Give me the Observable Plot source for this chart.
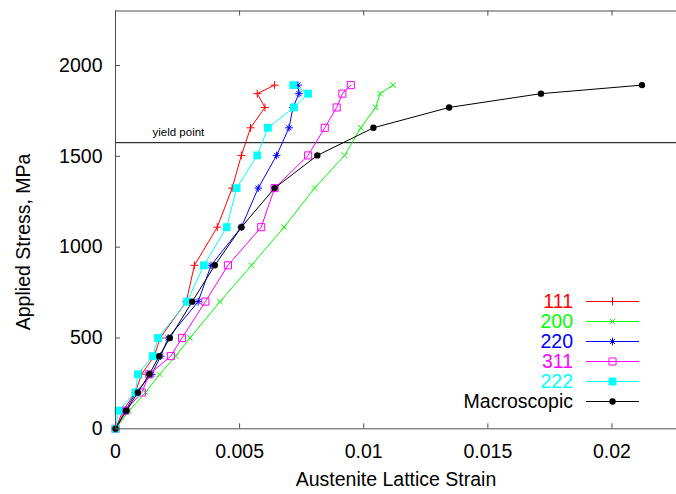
<!DOCTYPE html>
<html><head><meta charset="utf-8">
<script src="https://cdn.jsdelivr.net/npm/d3@7"></script>
<script src="https://cdn.jsdelivr.net/npm/@observablehq/plot@0.6"></script>
<style>
body{margin:0;background:#fff;}
#wrap{position:relative;width:676px;height:494px;}
#wrap svg{position:absolute;left:0;top:0;}
</style></head><body><div id="wrap"></div>
<script>
// ---- data ----
const stress = [0, 100, 200, 300, 400, 500, 700, 900, 1110, 1325, 1505, 1657, 1769, 1845, 1892];
const strain111 = [0, 0.0003, 0.0008, 0.00105, 0.00156, 0.0018, 0.00285, 0.00318, 0.0041, 0.0047, 0.00507, 0.00544, 0.00602, 0.00571, 0.00641];
const strain200 = [0, 0.00055, 0.00121, 0.00178, 0.00242, 0.003, 0.00421, 0.00548, 0.00679, 0.00802, 0.00923, 0.00988, 0.01048, 0.01066, 0.01118];
const strain220 = [0, 0.0004, 0.00082, 0.00146, 0.00182, 0.00212, 0.00333, 0.00385, 0.00507, 0.00575, 0.00649, 0.00699, 0.00715, 0.00739, 0.00735];
const strain311 = [0, 0.0004, 0.00106, 0.00136, 0.00223, 0.00268, 0.00362, 0.00453, 0.00587, 0.00641, 0.00776, 0.00843, 0.00891, 0.00914, 0.00948];
const strain222 = [0, 0.00012, 0.0008, 0.0009, 0.0015, 0.00171, 0.00288, 0.00356, 0.00448, 0.00488, 0.00571, 0.00614, 0.00719, 0.00776, 0.00716];
const strainMacro = [0, 0.00044, 0.0009, 0.00136, 0.00176, 0.00219, 0.00309, 0.004, 0.00507, 0.00641, 0.00813, 0.01039, 0.01344, 0.01714, 0.02121];
const seriesNames = ["111", "200", "220", "311", "222", "Macroscopic"];
const seriesColors = ["#ff0000", "#00ff00", "#0000ff", "#ff00ff", "#00ffff", "#000000"];
const xTicks = [0, 0.005, 0.01, 0.015, 0.02];
const yTicks = [0, 500, 1000, 1500, 2000];
const yieldStress = 1575;
const yieldLabel = "yield point";
const xLabel = "Austenite Lattice Strain";
const yLabel = "Applied Stress, MPa";
const xDomain = [0, 0.0226];
const yDomain = [0, 2300];

// ---- layout / style ----
const W = 676, H = 494;
const mL = 115, mR = 0, mT = 10.5, mB = 65.7;
const plotH = H - mT - mB, plotW = W - mL - mR;
const FONT = "'Liberation Sans', Arial, Helvetica, sans-serif";
const FS = 19.5;
const axisColor = "#505050";
const tickLen = 5;

const strains = [strain111, strain200, strain220, strain311, strain222, strainMacro];
const series = seriesNames.map((name, i) => ({
  name, color: seriesColors[i],
  data: stress.map((s, j) => ({stress: s, strain: strains[i][j]}))
}));

// marker specs per series: [symbol, r, filled]
const markerSpecs = [
  [["plus", 2.7, false]],
  [["times", 2.6, false]],
  [["plus", 2.6, false], ["times", 2.4, false]],
  [["square", 4.0, false]],
  [["square", 4.4, true]],
  [["circle", 3.2, true]]
];

const marks = [];
series.forEach((s, i) => {
  marks.push(Plot.line(s.data, {x: "strain", y: "stress", stroke: s.color, strokeWidth: 1}));
  markerSpecs[i].forEach(([sym, r, filled]) => {
    marks.push(Plot.dot(s.data, filled
      ? {x: "strain", y: "stress", symbol: sym, r, fill: s.color, stroke: "none"}
      : {x: "strain", y: "stress", symbol: sym, r, fill: "none", stroke: s.color, strokeWidth: 1}));
  });
});

const chart = Plot.plot({
  width: W, height: H,
  marginLeft: mL, marginRight: mR, marginTop: mT, marginBottom: mB,
  style: {fontFamily: FONT, fontSize: FS + "px", color: "#000", background: "#fff", overflow: "visible"},
  x: {domain: xDomain, axis: null},
  y: {domain: yDomain, axis: null},
  marks: [
    Plot.ruleY([yieldStress], {stroke: "#000", strokeWidth: 1}),
    Plot.text([yieldLabel], {frameAnchor: "left", y: () => yieldStress, text: d => d, textAnchor: "start", dx: 37, dy: -10, fontSize: 11.5, fill: "#000"}),
    ...marks,
    // frame (left, top, bottom)
    Plot.ruleX([xDomain[0]], {stroke: axisColor, strokeWidth: 1}),
    Plot.ruleY(yDomain, {stroke: axisColor, strokeWidth: 1}),
    // inward ticks
    Plot.tickX(xTicks, {x: d => d, insetTop: plotH - tickLen, stroke: axisColor}),
    Plot.tickX(xTicks, {x: d => d, insetBottom: plotH - tickLen, stroke: axisColor}),
    Plot.tickY(yTicks, {y: d => d, insetRight: plotW - tickLen, stroke: axisColor}),
    // tick labels
    Plot.axisX(xTicks, {anchor: "bottom", tickSize: 0, tickPadding: 15, tickFormat: d => String(d), label: null, fontSize: FS, fill: "#000"}),
    Plot.axisY(yTicks, {anchor: "left", tickSize: 0, tickPadding: 13, tickFormat: d => String(d), label: null, fontSize: FS, fill: "#000"}),
    // axis titles
    Plot.text([xLabel], {frameAnchor: "bottom", text: d => d, textAnchor: "middle", lineAnchor: "middle", dy: 51, fontSize: FS, fill: "#000"}),
    Plot.text([yLabel], {frameAnchor: "left", text: d => d, textAnchor: "middle", lineAnchor: "middle", rotate: -90, dx: -92, dy: 22, fontSize: FS, fill: "#000"})
  ]
});
document.getElementById("wrap").appendChild(chart);

// ---- legend overlay ----
const leg = d3.select("#wrap").append("svg").attr("width", W).attr("height", H)
  .style("font-family", FONT).style("pointer-events", "none");
const legTextRight = 573, legY0 = 301.5, legStep = 20, legX1 = 586, legX2 = 639, legMark = 612.5;
const symbolTypes = {plus: d3.symbolPlus, times: d3.symbolTimes, square: d3.symbolSquare, circle: d3.symbolCircle};
series.forEach((s, i) => {
  const y = legY0 + i * legStep;
  leg.append("text").attr("x", legTextRight).attr("y", y).attr("dy", "0.35em")
    .attr("text-anchor", "end").attr("font-size", FS).attr("fill", s.color).text(s.name);
  leg.append("line").attr("x1", legX1).attr("x2", legX2).attr("y1", y).attr("y2", y)
    .attr("stroke", s.color).attr("stroke-width", 1);
  markerSpecs[i].forEach(([sym, r, filled]) => {
    leg.append("path").attr("transform", `translate(${legMark},${y})`)
      .attr("d", d3.symbol(symbolTypes[sym], Math.PI * r * r)())
      .attr("fill", filled ? s.color : "none").attr("stroke", filled ? "none" : s.color).attr("stroke-width", 1);
  });
});
</script></body></html>
